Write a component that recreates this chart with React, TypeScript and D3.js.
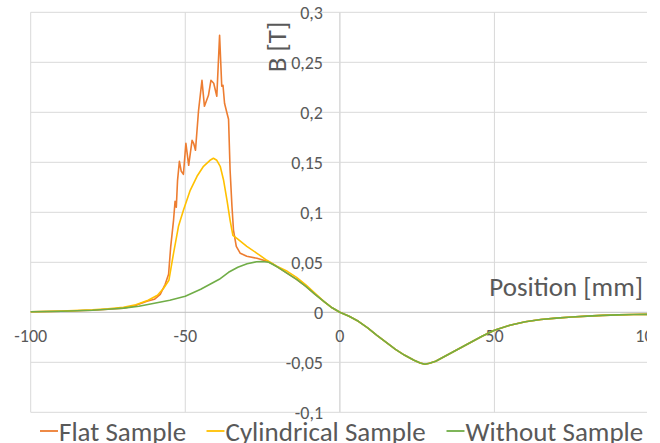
import React from 'react';
import * as d3 from 'd3';

// axis ticks
const xTicks = [-100, -50, 0, 50, 100];
const yTicks = [-0.1, -0.05, 0, 0.05, 0.1, 0.15, 0.2, 0.25, 0.3];

const seriesNames = ['Flat Sample', 'Cylindrical Sample', 'Without Sample'];
const seriesColors = ['#ED7D31', '#FFC000', '#70AD47'];

// right part of the profile, the three curves lie on top of each other there
const tailX = [-20, -17, -14, -11, -8, -5, -2.5, 0, 3, 6, 9, 12, 15, 18, 21, 24, 26, 27.5, 29, 31, 34, 37, 40, 43, 46, 50, 55, 60, 65, 70, 75, 80, 85, 90, 95, 100];
const tailY = [0.045, 0.039, 0.033, 0.026, 0.018, 0.0105, 0.0045, 0, -0.004, -0.009, -0.0155, -0.023, -0.03, -0.037, -0.043, -0.048, -0.0508, -0.052, -0.051, -0.049, -0.044, -0.039, -0.034, -0.029, -0.024, -0.018, -0.013, -0.0095, -0.0072, -0.0058, -0.0047, -0.0038, -0.0031, -0.0026, -0.0022, -0.002];

// Flat Sample (left part)
const flatX = [-100, -90, -80, -75, -70, -66.8, -62.4, -60, -58.1, -56.5, -55.4, -54.7, -53.8, -53.3, -52.9, -52.5, -51.9, -51.3, -50.6, -49.8, -48.9, -47.8, -47.3, -46.7, -45.7, -44.6, -43.8, -42.5, -41.7, -40.8, -39.8, -38.9, -38.2, -37.8, -37.3, -36.5, -36, -35.5, -34.9, -34.4, -33.5, -32.2, -30.1, -26.8, -23.6, -21.5];
const flatY = [0.0005, 0.001, 0.002, 0.003, 0.004, 0.006, 0.011, 0.013, 0.018, 0.028, 0.038, 0.066, 0.092, 0.111, 0.105, 0.132, 0.151, 0.141, 0.138, 0.169, 0.147, 0.172, 0.169, 0.162, 0.202, 0.232, 0.206, 0.217, 0.232, 0.229, 0.216, 0.277, 0.226, 0.227, 0.209, 0.199, 0.193, 0.142, 0.106, 0.082, 0.066, 0.059, 0.056, 0.054, 0.051, 0.048];

// Cylindrical Sample (left part)
const cylX = [-100, -90, -80, -75, -70, -66, -62, -59, -57, -55.3, -53.8, -52.2, -50.6, -48.4, -46.2, -44.1, -42, -40.9, -39.8, -38.7, -37.6, -36.5, -35.5, -34.6, -33.3, -30.1, -26.8, -23.6, -20.4, -17, -14, -11, -8];
const cylY = [0.0005, 0.0012, 0.0025, 0.0035, 0.005, 0.0075, 0.012, 0.017, 0.024, 0.032, 0.059, 0.086, 0.102, 0.122, 0.136, 0.146, 0.152, 0.154, 0.152, 0.146, 0.132, 0.112, 0.092, 0.077, 0.074, 0.066, 0.059, 0.052, 0.046, 0.041, 0.035, 0.0275, 0.019];

// Without Sample (left part)
const freeX = [-100, -90, -80, -75, -70, -65, -60, -55, -50, -45, -42, -39, -36, -33, -30, -27, -25, -23];
const freeY = [0.0005, 0.001, 0.002, 0.003, 0.0042, 0.006, 0.009, 0.012, 0.016, 0.023, 0.028, 0.033, 0.04, 0.045, 0.0485, 0.0505, 0.0508, 0.05];

const W = 660;
const H = 443;
const FONT = 'Carlito, Lato, sans-serif';
const TXT = '#595959';

const build = (xs: number[], ys: number[]) => {
  const head = xs.map((x, i) => [x, ys[i]] as [number, number]);
  const last = xs[xs.length - 1];
  const tail = tailX.map((x, i) => [x, tailY[i]] as [number, number]).filter(d => d[0] > last);
  return head.concat(tail);
};

const series = [build(flatX, flatY), build(cylX, cylY), build(freeX, freeY)];

const fmt = (v: number) => String(v).replace('.', ',');

export default function App() {
  const x = d3.scaleLinear().domain([-100, 100]).range([30.7, 649]);
  const y = d3.scaleLinear().domain([-0.1, 0.3]).range([412.3, 12.3]);

  const line = d3.line<[number, number]>()
    .x(d => x(d[0]))
    .y(d => y(d[1]));

  const legendX = [40, 206.5, 446.5];

  return (
    <svg width={W} height={H} style={{ position: 'absolute', left: 0, top: 0, background: '#fff' }}>
      <defs>
        <clipPath id="crop">
          <rect x={0} y={0} width={647} height={H} />
        </clipPath>
      </defs>
      <g clipPath="url(#crop)">
        {/* grid */}
        {yTicks.filter(t => t !== 0).map(t => (
          <line key={'gy' + t} x1={x(-100)} x2={x(100)} y1={y(t)} y2={y(t)} stroke="#d9d9d9" strokeWidth={1} />
        ))}
        {xTicks.filter(t => t !== 0).map(t => (
          <line key={'gx' + t} x1={x(t)} x2={x(t)} y1={y(0.3)} y2={y(-0.1)} stroke="#d9d9d9" strokeWidth={1} />
        ))}
        {/* axes crossing at 0 */}
        <line x1={x(-100)} x2={x(100)} y1={y(0)} y2={y(0)} stroke="#bfbfbf" strokeWidth={1} />
        <line x1={x(0)} x2={x(0)} y1={y(0.3)} y2={y(-0.1)} stroke="#d9d9d9" strokeWidth={1.5} />

        {/* y tick labels */}
        {yTicks.map(t => (
          <text key={'ty' + t} x={323} y={y(t)} dy="0.38em" textAnchor="end"
            fontFamily={FONT} fontSize={18} fill={TXT}>{fmt(t)}</text>
        ))}
        {/* x tick labels */}
        {xTicks.map(t => (
          <text key={'tx' + t} x={x(t)} y={y(0) + 29.5} textAnchor="middle"
            fontFamily={FONT} fontSize={18} fill={TXT}>{fmt(t)}</text>
        ))}

        {/* axis titles */}
        <text transform="translate(286,47) rotate(-90)" textAnchor="middle"
          fontFamily={FONT} fontSize={27} fill={TXT}>B [T]</text>
        <text x={643} y={296} textAnchor="end" fontFamily={FONT} fontSize={27} fill={TXT}>Position [mm]</text>

        {/* curves */}
        {series.map((s, i) => (
          <path key={'s' + i} d={line(s) || ''} fill="none" stroke={seriesColors[i]}
            strokeWidth={1.6} strokeLinejoin="round" />
        ))}

        {/* legend */}
        {seriesNames.map((n, i) => (
          <g key={'lg' + i} transform={`translate(${legendX[i]},431)`}>
            <line x1={0} x2={18} y1={0} y2={0} stroke={seriesColors[i]} strokeWidth={1.8} />
            <text x={19} y={9.5} fontFamily={FONT} fontSize={27} fill={TXT}>{n}</text>
          </g>
        ))}
      </g>
    </svg>
  );
}
